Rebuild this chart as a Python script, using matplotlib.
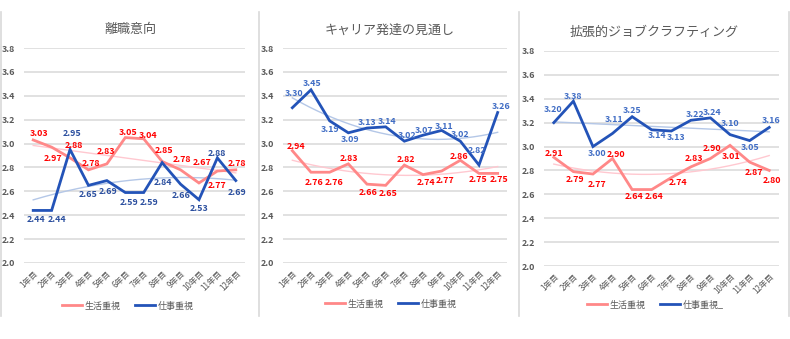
import numpy as np
import matplotlib
matplotlib.use("Agg")
import matplotlib.pyplot as plt
from matplotlib.lines import Line2D

plt.rcParams['font.family'] = ['Noto Sans CJK JP', 'DejaVu Sans']

# ---------------- data ----------------
years = ['1年目', '2年目', '3年目', '4年目', '5年目', '6年目',
         '7年目', '8年目', '9年目', '10年目', '11年目', '12年目']
titles = ['離職意向', 'キャリア発達の見通し', '拡張的ジョブクラフティング']
life_labels = ['生活重視', '生活重視', '生活重視']
work_labels = ['仕事重視', '仕事重視', '仕事重視_']

life_1 = [3.03, 2.97, 2.88, 2.78, 2.83, 3.05, 3.04, 2.85, 2.78, 2.67, 2.77, 2.78]
work_1 = [2.44, 2.44, 2.95, 2.65, 2.69, 2.59, 2.59, 2.84, 2.66, 2.53, 2.88, 2.69]
life_2 = [2.94, 2.76, 2.76, 2.83, 2.66, 2.65, 2.82, 2.74, 2.77, 2.86, 2.75, 2.75]
work_2 = [3.30, 3.45, 3.19, 3.09, 3.13, 3.14, 3.02, 3.07, 3.11, 3.02, 2.82, 3.26]
life_3 = [2.91, 2.79, 2.77, 2.90, 2.64, 2.64, 2.74, 2.83, 2.90, 3.01, 2.87, 2.80]
work_3 = [3.20, 3.38, 3.00, 3.11, 3.25, 3.14, 3.13, 3.22, 3.24, 3.10, 3.05, 3.16]

# trendline polynomial degrees (Excel-style trendlines)
life_trend_deg = [1, 2, 2]
work_trend_deg = [2, 2, 1]

# ---------------- layout / style ----------------
W, H = 790, 339
# axes boxes in pixels: (left, right, top, bottom)
boxes = [(24, 245, 48, 263), (283, 507, 48, 263), (544, 779, 51, 266)]
title_pos = [(130, 29), (390, 30), (654, 32)]
legend_pos = [(128, 306), (391, 304), (655, 305)]
separators_x = [0.8, 258.8, 518.8, 789.2]

# data-label offsets in pixels (dx, dy) ; dy positive = downwards
life_off = [
    [(6, -6), (1, 11), (4, -12), (2, -6), (-1, -12), (3, -5), (4, -3), (2, -11), (1, -10), (3, -20), (0, 14), (1, -6)],
    [(4, -4), (3, 10), (4, 10), (1, -5), (1, 8), (2, 8), (2, -6), (3, 8), (3, 9), (-1, -4), (-1, 6), (1, 6)],
    [(0, -4), (2, 8), (4, 10), (3, -4), (2, 7), (2, 7), (7, 5), (3, -8), (2, -10), (1, 11), (4, 10), (3, 10)],
]
work_off = [
    [(3, 9), (5, 9), (2, -16), (0, 9), (1, 11), (4, 10), (5, 10), (1, 20), (1, 11), (0, 9), (0, -4), (1, 12)],
    [(2, -14), (1, -6), (0, 9), (2, 7), (0, -6), (1, -5), (3, -6), (1, -5), (2, -4), (0, -7), (-2, -15), (3, -6)],
    [(-1, -13), (0, -5), (4, 7), (2, -14), (0, -6), (5, 6), (5, 6), (4, -6), (2, -5), (0, -11), (0, 7), (2, -7)],
]

pink = '#FF8888'
blue = '#2353B8'
pink_trend = '#FFC8D0'
blue_trend = '#B4C7E7'
red_text = '#FF0000'
blue_text = ['#2A4E9E', '#3F6CC4', '#3F6CC4']
gray_text = '#595959'
grid_col = '#D9D9D9'

fig = plt.figure(figsize=(W / 100, H / 100), dpi=100)
fig.patch.set_facecolor('white')

for sx in separators_x:
    fig.add_artist(Line2D([sx / W, sx / W], [1 - 12 / H, 1 - 316 / H],
                          color='#D9D9D9', lw=1.2, transform=fig.transFigure))

lifes = [life_1, life_2, life_3]
works = [work_1, work_2, work_3]
px2pt = 72 / 100

for k in range(3):
    l, r, t, b = boxes[k]
    ax = fig.add_axes([l / W, 1 - b / H, (r - l) / W, (b - t) / H])
    x = np.arange(len(years))
    ax.set_xlim(-0.5, len(years) - 0.5)
    ax.set_ylim(2.0, 3.8)
    ax.set_yticks(np.arange(2.0, 3.81, 0.2))
    ax.set_yticklabels([f'{v:.1f}' for v in np.arange(2.0, 3.81, 0.2)],
                       fontsize=6.4, color=gray_text, fontweight='bold')
    ax.set_xticks(x)
    ax.set_xticklabels(years, rotation=45, ha='right', va='top',
                       rotation_mode='anchor', fontsize=5.8, color=gray_text)
    ax.tick_params(axis='both', length=0)
    ax.tick_params(axis='y', pad=6.5)
    ax.tick_params(axis='x', pad=4)
    for s in ax.spines.values():
        s.set_visible(False)
    ax.grid(axis='y', color=grid_col, lw=1.1)
    ax.set_axisbelow(True)
    ax.patch.set_alpha(0)

    life = np.array(lifes[k])
    work = np.array(works[k])
    xx = np.arange(1, len(years) + 1)
    xf = np.linspace(1, len(years), 200)

    # trendlines
    cl = np.polyfit(xx, life, life_trend_deg[k])
    cw = np.polyfit(xx, work, work_trend_deg[k])
    ax.plot(xf - 1, np.polyval(cl, xf), color=pink_trend, lw=1.0, zorder=2)
    ax.plot(xf - 1, np.polyval(cw, xf), color=blue_trend, lw=1.0, zorder=2)

    ax.plot(x, life, color=pink, lw=2.0, zorder=3, solid_joinstyle='miter')
    ax.plot(x, work, color=blue, lw=2.0, zorder=4, solid_joinstyle='miter')

    for i in range(len(years)):
        dx, dy = life_off[k][i]
        ax.annotate(f'{life[i]:.2f}', (x[i], life[i]),
                    xytext=(dx * px2pt, -dy * px2pt), textcoords='offset points',
                    ha='center', va='center', fontsize=6.4, fontweight='bold',
                    color=red_text, zorder=6)
        dx, dy = work_off[k][i]
        ax.annotate(f'{work[i]:.2f}', (x[i], work[i]),
                    xytext=(dx * px2pt, -dy * px2pt), textcoords='offset points',
                    ha='center', va='center', fontsize=6.4, fontweight='bold',
                    color=blue_text[k], zorder=6)

    tx, ty = title_pos[k]
    fig.text(tx / W, 1 - ty / H, titles[k], ha='center', va='center',
             fontsize=9.4, color=gray_text)

    handles = [Line2D([], [], color=pink, lw=2.0), Line2D([], [], color=blue, lw=2.0)]
    lx, ly = legend_pos[k]
    ax.legend(handles, [life_labels[k], work_labels[k]], ncol=2, loc='center',
              bbox_to_anchor=(lx / W, 1 - ly / H), bbox_transform=fig.transFigure,
              frameon=False, fontsize=6.5, labelcolor=gray_text,
              handlelength=2.2, handletextpad=0.3, columnspacing=1.6)

fig.savefig('out.png', dpi=100, facecolor='white')
